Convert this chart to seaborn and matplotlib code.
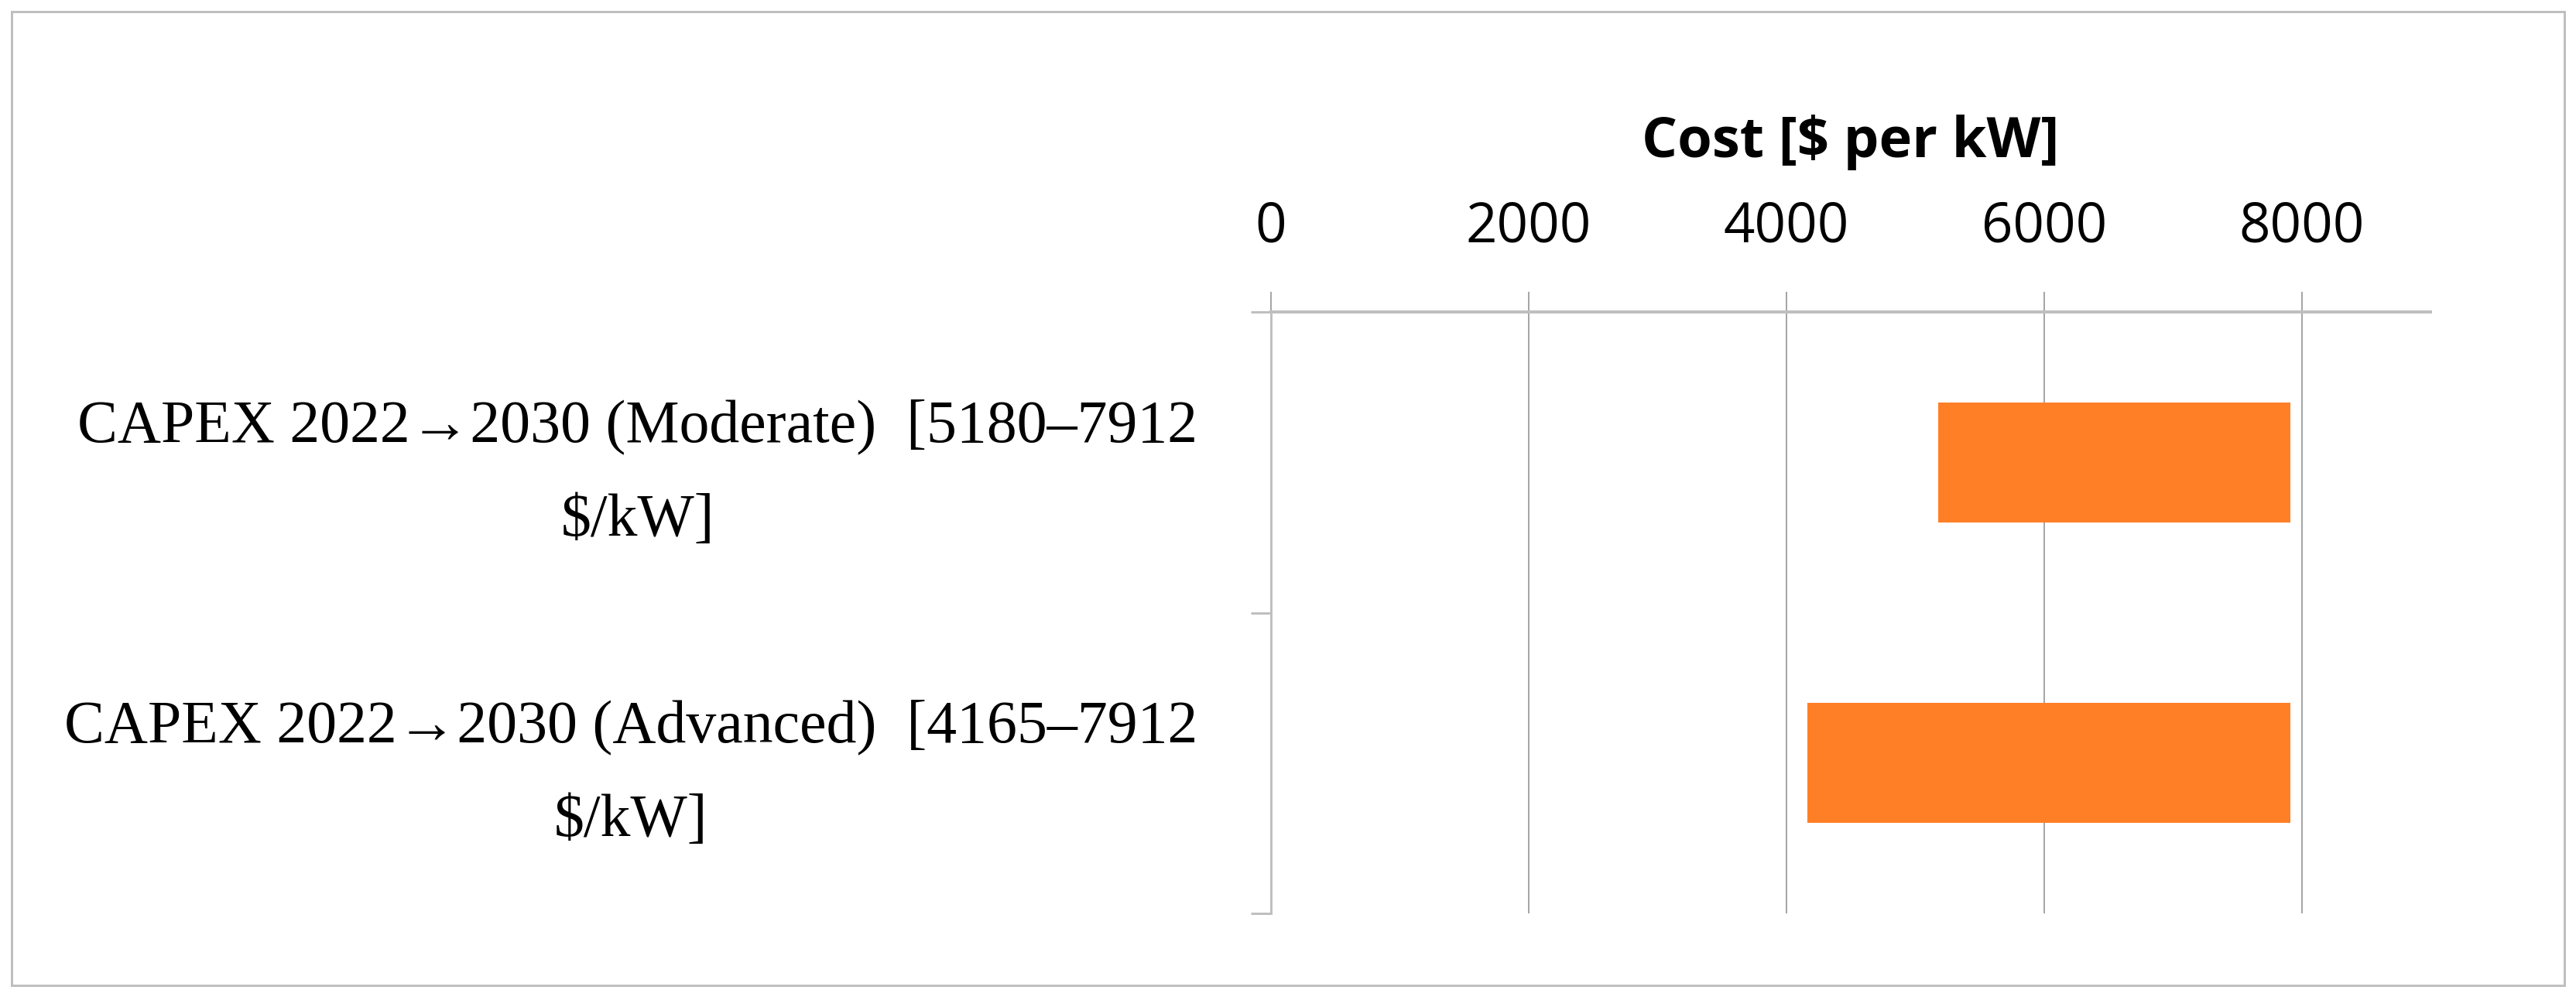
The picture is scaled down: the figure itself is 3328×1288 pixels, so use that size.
import numpy as np
import pandas as pd
import matplotlib
matplotlib.use("Agg")
import matplotlib.pyplot as plt
from matplotlib.patches import Rectangle
from matplotlib.transforms import ScaledTranslation
import seaborn as sns

# ---- data ----
categories = ["CAPEX 2022\u21922030 (Moderate)  [5180\u20137912\n$/kW]",
              "CAPEX 2022\u21922030 (Advanced)  [4165\u20137912\n$/kW]"]
low_values = [5180, 4165]
high_values = [7912, 7912]
x_ticks = [0, 2000, 4000, 6000, 8000]
x_label = "Cost [$ per kW]"

ORANGE = "#FF7F27"
GRID = "#A6A6A6"
AXIS = "#BFBFBF"

sns.set_theme(style="white")
plt.rcParams["font.family"] = ["Open Sans", "DejaVu Sans"]

DPI = 100
fig = plt.figure(figsize=(33.28, 12.88), dpi=DPI)
W, H = 3328, 1288
px = 72.0 / DPI  # points per pixel

ax = fig.add_axes([1642 / W, 1 - 1180 / H, (3140 - 1642) / W, (1180 - 403) / H])

df = pd.DataFrame({"category": categories,
                   "span": np.array(high_values) - np.array(low_values)})
sns.barplot(data=df, x="span", y="category", color=ORANGE, width=0.4,
            saturation=1, orient="h", ax=ax, zorder=3)
for patch, lo in zip(ax.patches, low_values):
    patch.set_x(lo)
    patch.set_linewidth(0)

ax.set_xlim(0, 9000)
ax.set_ylim(1.5, -0.5)

# x axis on top
ax.xaxis.tick_top()
ax.xaxis.set_label_position("top")
ax.set_xticks(x_ticks)
ax.set_xticklabels([str(t) for t in x_ticks])
ax.tick_params(axis="x", which="major", top=True, bottom=False,
               length=26 * px, width=2 * px, color=GRID,
               pad=34, labelsize=51, labelcolor="black")
ax.set_xlabel(x_label, fontsize=52, fontweight="bold", color="black",
              labelpad=40)

# y axis: labels at centres, tick marks at category boundaries
ax.set_yticks([0, 1])
ax.set_yticklabels(categories)
ax.set_yticks([-0.5, 0.5, 1.5], minor=True)
ax.tick_params(axis="y", which="major", left=False, length=0, pad=95 * px)
ax.tick_params(axis="y", which="minor", left=True, length=26 * px,
               width=3 * px, color=AXIS)
shift = ScaledTranslation(0, 82 / DPI, fig.dpi_scale_trans)
for lbl in ax.get_yticklabels():
    lbl.set_fontfamily(["Liberation Serif", "DejaVu Serif"])
    lbl.set_fontsize(56)
    lbl.set_color("black")
    lbl.set_multialignment("center")
    lbl.set_linespacing(1.92)
    lbl.set_verticalalignment("top")
    lbl.set_transform(lbl.get_transform() + shift)
ax.set_ylabel("")

# grid & spines
ax.grid(axis="x", color=GRID, linewidth=2 * px, zorder=0)
ax.grid(axis="y", visible=False)
ax.set_axisbelow(True)
for side in ["right", "bottom"]:
    ax.spines[side].set_visible(False)
ax.spines["top"].set_color(AXIS)
ax.spines["top"].set_linewidth(4 * px)
ax.spines["left"].set_color(AXIS)
ax.spines["left"].set_linewidth(3 * px)

# outer chart border
fig.patches.append(Rectangle((15 / W, 15 / H), (3313 - 15) / W, (1273 - 15) / H,
                             transform=fig.transFigure, fill=False,
                             edgecolor=AXIS, linewidth=3 * px))

fig.savefig("out.png", dpi=DPI, facecolor="white")
